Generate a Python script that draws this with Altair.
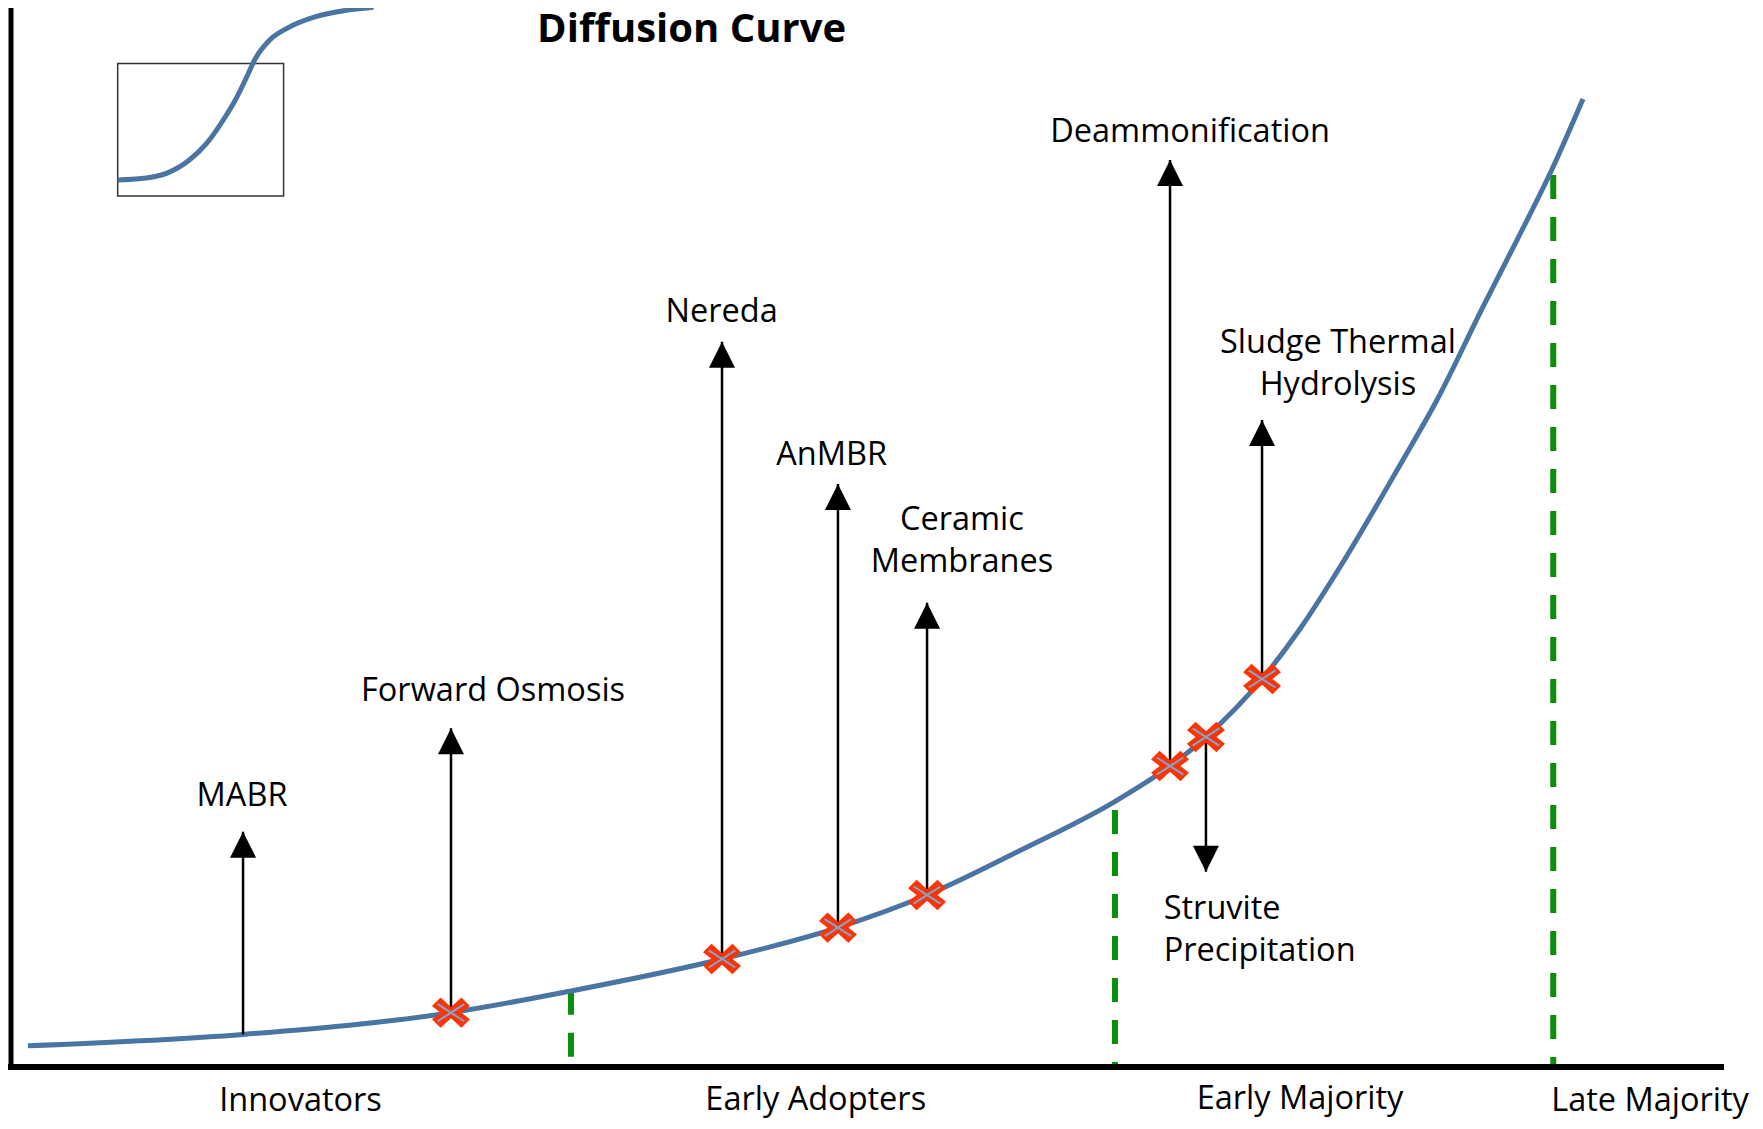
import altair as alt
import pandas as pd

# ---- main diffusion curve (x: time 0-100, y: adoption 0-100) ----
curve_x = [0.99, 13.57, 25.73, 32.75, 41.58, 48.36, 53.57, 58.95, 64.50, 67.78,
           69.88, 73.16, 75.38, 77.72, 81.23, 83.39, 86.08, 88.07, 90.18, 91.93]
curve_y = [2.01, 3.08, 5.13, 7.18, 10.20, 13.16, 16.24, 20.40, 25.02, 28.42,
           31.16, 36.64, 41.36, 47.21, 56.85, 62.98, 71.77, 78.09, 84.99, 91.41]

# ---- inset S-curve ----
inset_x = [6.24, 7.75, 9.09, 10.43, 11.44, 12.45, 13.12, 13.79, 14.30, 15.13,
           16.14, 17.82, 19.50, 21.20]
inset_y = [83.76, 83.92, 84.39, 85.65, 87.22, 89.52, 91.31, 93.51, 95.25, 96.98,
           98.08, 99.18, 99.75, 100.07]
inset_box_x = [6.24, 15.94]
inset_box_y = [82.25, 94.77]

# ---- category boundaries (green dashed) ----
bound_x = [32.75, 64.56, 90.19]
bound_top = [7.21, 24.27, 84.23]

# ---- technologies ----
tech_names = ["MABR", "Forward Osmosis", "Nereda", "AnMBR", "Ceramic Membranes",
              "Deammonification", "Sludge Thermal Hydrolysis", "Struvite Precipitation"]
tech_x = [13.57, 25.73, 41.58, 48.36, 53.57, 67.78, 73.16, 69.88]
tech_base = [3.08, 5.13, 10.20, 13.16, 16.24, 28.42, 36.64, 31.16]
tech_tip = [22.22, 31.98, 68.49, 55.05, 43.84, 85.65, 61.10, 18.44]
tech_marker = [False, True, True, True, True, True, True, True]
tech_up = [True, True, True, True, True, True, True, False]

# ---- labels ----
label_text = ["MABR", "Forward Osmosis", "Nereda", "AnMBR", "Ceramic", "Membranes",
              "Deammonification", "Sludge Thermal", "Hydrolysis"]
label_x = [13.51, 28.19, 41.56, 47.99, 55.61, 55.61, 68.95, 77.60, 77.60]
label_y = [24.67, 34.56, 70.38, 56.85, 50.71, 46.77, 87.38, 67.39, 63.46]
left_label_text = ["Struvite", "Precipitation"]
left_label_x = [67.41, 67.41]
left_label_y = [13.93, 9.99]

cat_text = ["Innovators", "Early Adopters", "Early Majority", "Late Majority"]
cat_x = [16.93, 47.06, 75.38, 95.85]
cat_y = [-4.2, -4.05, -3.95, -4.2]

title_text = ["Diffusion Curve"]
title_x = [39.80]
title_y = [96.79]

# ---- axis frame ----
axis_x = [0, 100]
axis_y = [0, 100]

# ---------------------------------------------------------------
curve_df = pd.DataFrame({"x": curve_x, "y": curve_y})
inset_df = pd.DataFrame({"x": inset_x, "y": inset_y})
box_df = pd.DataFrame({"x": [inset_box_x[0]], "x2": [inset_box_x[1]],
                       "y": [inset_box_y[0]], "y2": [inset_box_y[1]]})
bound_df = pd.DataFrame({"x": bound_x, "top": bound_top, "bottom": [0] * len(bound_x)})
tech_df = pd.DataFrame({"name": tech_names, "x": tech_x, "base": tech_base,
                        "tip": tech_tip, "marker": tech_marker, "up": tech_up})
label_df = pd.DataFrame({"t": label_text, "x": label_x, "y": label_y})
left_df = pd.DataFrame({"t": left_label_text, "x": left_label_x, "y": left_label_y})
cat_df = pd.DataFrame({"t": cat_text, "x": cat_x, "y": cat_y})
title_df = pd.DataFrame({"t": title_text, "x": title_x, "y": title_y})
xaxis_df = pd.DataFrame({"x": [axis_x[0]], "x2": [axis_x[1]], "y": [axis_y[0]]})
yaxis_df = pd.DataFrame({"x": [axis_x[0]], "y": [axis_y[0]], "y2": [axis_y[1]]})

XS = alt.Scale(domain=[0, 100], nice=False, zero=False)
YS = alt.Scale(domain=[0, 100], nice=False, zero=False)


def ex(field="x"):
    return alt.X(f"{field}:Q", scale=XS, axis=None)


def ey(field="y"):
    return alt.Y(f"{field}:Q", scale=YS, axis=None)


BLUE = "#4A74A1"
FONT = "Open Sans"
FS = 32.5

xaxis = alt.Chart(xaxis_df).mark_rule(color="black", strokeWidth=6, strokeCap="square").encode(
    x=ex(), x2="x2:Q", y=ey())
yaxis = alt.Chart(yaxis_df).mark_rule(color="black", strokeWidth=5, strokeCap="square").encode(
    x=ex(), y=ey(), y2="y2:Q")

curve = alt.Chart(curve_df).mark_line(color=BLUE, strokeWidth=5, interpolate="monotone").encode(
    x=ex(), y=ey())

bounds = alt.Chart(bound_df).mark_rule(color="#0A8F0A", strokeWidth=6, strokeDash=[24, 18],
                                       strokeCap="butt").encode(x=ex(), y=ey("top"), y2="bottom:Q")

stems = alt.Chart(tech_df).mark_rule(color="black", strokeWidth=2.5).encode(
    x=ex(), y=ey("base"), y2="tip:Q")

up_heads = alt.Chart(tech_df).transform_filter("datum.up").mark_point(
    shape="M0,-1L1,1L-1,1Z", size=676, filled=True, color="black", opacity=1, strokeWidth=0,
    yOffset=13).encode(x=ex(), y=ey("tip"))
down_heads = alt.Chart(tech_df).transform_filter("!datum.up").mark_point(
    shape="M0,1L1,-1L-1,-1Z", size=676, filled=True, color="black", opacity=1, strokeWidth=0,
    yOffset=-13).encode(x=ex(), y=ey("tip"))

XPATH = ("M-1,-0.35L-0.55,-0.8L0,-0.3L0.55,-0.8L1,-0.35L0.55,0L1,0.35L0.55,0.8"
         "L0,0.3L-0.55,0.8L-1,0.35L-0.55,0Z")
markers = alt.Chart(tech_df).transform_filter("datum.marker").mark_point(
    shape=XPATH, size=1444, filled=True, color="#FF3300", opacity=1, strokeWidth=0).encode(
    x=ex(), y=ey("base"))
inner = alt.Chart(tech_df).transform_filter("datum.marker").mark_point(
    shape="M-0.7,-0.45L0.7,0.45M-0.7,0.45L0.7,-0.45", size=1444, filled=False,
    color="#7AA8D8", opacity=1, strokeWidth=2).encode(x=ex(), y=ey("base"))

labels = alt.Chart(label_df).mark_text(font=FONT, fontSize=FS, baseline="alphabetic",
                                       align="center", color="black").encode(
    x=ex(), y=ey(), text="t:N")
left_labels = alt.Chart(left_df).mark_text(font=FONT, fontSize=FS, baseline="alphabetic",
                                           align="left", color="black").encode(
    x=ex(), y=ey(), text="t:N")
cats = alt.Chart(cat_df).mark_text(font=FONT, fontSize=FS, baseline="alphabetic",
                                   align="center", color="black").encode(
    x=ex(), y=ey(), text="t:N")
title = alt.Chart(title_df).mark_text(font=FONT, fontSize=40, fontWeight="bold",
                                      baseline="alphabetic", align="center", color="black").encode(
    x=ex(), y=ey(), text="t:N")

box = alt.Chart(box_df).mark_rect(fill="white", fillOpacity=0, stroke="#333333",
                                  strokeWidth=1.5).encode(x=ex(), x2="x2:Q", y=ey(), y2="y2:Q")
inset = alt.Chart(inset_df).mark_line(color=BLUE, strokeWidth=5, interpolate="monotone").encode(
    x=ex(), y=ey())

chart = alt.layer(
    bounds, curve, stems, up_heads, down_heads, markers, inner,
    labels, left_labels, cats, title, box, inset, xaxis, yaxis
).properties(
    width=1710, height=1059,
    autosize=alt.AutoSizeParams(type="none"),
    padding={"left": 3, "top": 0, "right": 34, "bottom": 54},
    background="white",
).configure_view(stroke=None)

chart.save("out.html", embed_options={"renderer": "svg", "actions": False})
